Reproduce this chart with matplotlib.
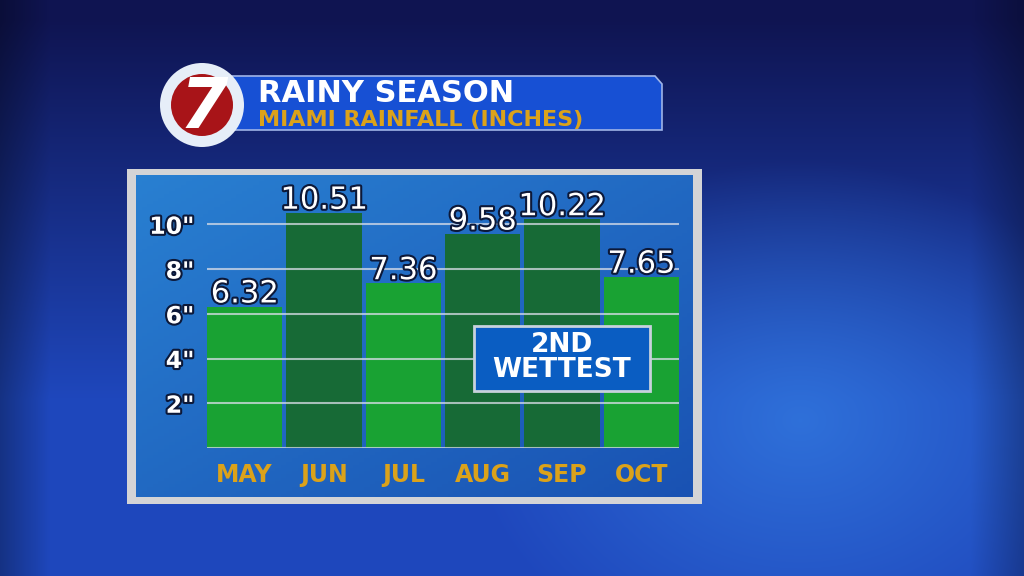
import numpy as np
import matplotlib
matplotlib.use("Agg")
import matplotlib.pyplot as plt
import matplotlib.patheffects as pe
from matplotlib.patches import Rectangle, Circle, Polygon

months = ["MAY", "JUN", "JUL", "AUG", "SEP", "OCT"]
rainfall = [6.32, 10.51, 7.36, 9.58, 10.22, 7.65]
ytick_vals = [2, 4, 6, 8, 10]
ytick_labels = ['2"', '4"', '6"', '8"', '10"']
title = "RAINY SEASON"
subtitle = "MIAMI RAINFALL (INCHES)"
callout = "2ND\nWETTEST"
callout_month = "SEP"

W, H = 1024, 576
LIGHT_GREEN = "#19a233"
DARK_GREEN = "#176a36"
GOLD = "#dba21a"
outline = [pe.withStroke(linewidth=3, foreground="#0c1838")]

fig = plt.figure(figsize=(W / 100, H / 100), dpi=100)

# background: navy at the top, brighter blue lower down, glow on the right
bg = fig.add_axes([0, 0, 1, 1])
bg.set_xlim(0, W)
bg.set_ylim(H, 0)
bg.axis("off")
yy, xx = np.mgrid[0:H, 0:W].astype(float)
vert = np.clip((yy - 20) / 380.0, 0, 1)
glow = np.clip(1 - np.sqrt(((xx - 800) / 330.0) ** 2 + ((yy - 420) / 260.0) ** 2), 0, 1)
edge = np.clip(1 - xx / 50.0, 0, 1) * 0.3 + np.clip((xx - 970) / 54.0, 0, 1) * 0.25
c_top = np.array([0.06, 0.08, 0.32])
c_mid = np.array([0.12, 0.28, 0.74])
c_glow = np.array([0.20, 0.48, 0.88])
img = c_top * (1 - vert[..., None]) + c_mid * vert[..., None]
img = img * (1 - glow[..., None] * 0.8) + c_glow * glow[..., None] * 0.8
img = img * (1 - edge[..., None])
bg.imshow(np.clip(img, 0, 1), extent=[0, W, H, 0], aspect="auto", zorder=0)

# gray frame and blue panel
bg.add_patch(Rectangle((127, 169), 575, 335, fc="#d4d4d6", ec="none", zorder=1))
py, px = np.mgrid[0:100, 0:100]
pk = np.clip((px + py) / 200.0, 0, 1)[..., None]
panel = np.array([0.16, 0.50, 0.82]) * (1 - pk) + np.array([0.10, 0.32, 0.70]) * pk
bg.imshow(panel, extent=[136, 693, 497, 175], aspect="auto", zorder=2)

# title banner
bg.add_patch(Polygon([(232, 76), (655, 76), (662, 84), (662, 130), (232, 130)],
                     closed=True, fc="#1750d4", ec="#9fb4e8", lw=1.2, zorder=3))
bg.text(258, 102, title, color="white", fontsize=22, fontweight="bold",
        ha="left", va="baseline", zorder=4)
bg.text(258, 126, subtitle, color=GOLD, fontsize=16, fontweight="bold",
        ha="left", va="baseline", zorder=4)

# channel logo
bg.add_patch(Circle((202, 105), 42, fc="#e6eef8", ec="none", zorder=5))
bg.add_patch(Circle((202, 105), 31, fc="#a81418", ec="none", zorder=6))
bg.text(204, 108, "7", color="white", fontsize=50, fontweight="bold",
        style="italic", ha="center", va="center", zorder=7)

# chart axes, placed over the blue panel
bw = 0.95
ax = fig.add_axes([207 / W, (H - 448) / H, 472 / W, (448 - 176) / H])
ax.patch.set_alpha(0)
ax.set_xlim(-bw / 2, len(months) - 1 + bw / 2)
ax.set_ylim(0, 272 / 22.37)
for s in ax.spines.values():
    s.set_visible(False)

x = np.arange(len(months))
colors = [DARK_GREEN if v > 9 else LIGHT_GREEN for v in rainfall]
ax.bar(x, rainfall, width=bw, color=colors, zorder=2)

for gy in [0] + ytick_vals:
    ax.axhline(gy, color="#d8dde8", lw=1.5, alpha=0.75, zorder=3)

for xi, v in zip(x, rainfall):
    ax.annotate(f"{v:.2f}", (xi, v), xytext=(0, 3), textcoords="offset points",
                ha="center", va="baseline", color="white", fontsize=22,
                path_effects=outline, zorder=5)

ax.set_yticks(ytick_vals)
ax.set_yticklabels(ytick_labels, color="white", fontsize=17, fontweight="bold")
for t in ax.get_yticklabels():
    t.set_path_effects(outline)
ax.set_xticks(x)
ax.set_xticklabels(months, color=GOLD, fontsize=17, fontweight="bold")
ax.tick_params(length=0)
ax.tick_params(axis="y", pad=9)
ax.tick_params(axis="x", pad=11)

# callout box centred on its month
cx = months.index(callout_month)
ax.add_patch(Rectangle((cx - 1.115, 2.55), 2.23, 2.9, fc="#0a5dc2",
                       ec="#c8d2dc", lw=2, zorder=6))
ax.text(cx, 4.05, callout, color="white", fontsize=19, fontweight="bold",
        ha="center", va="center", linespacing=0.95, zorder=7)

fig.savefig("out.png", dpi=100)
